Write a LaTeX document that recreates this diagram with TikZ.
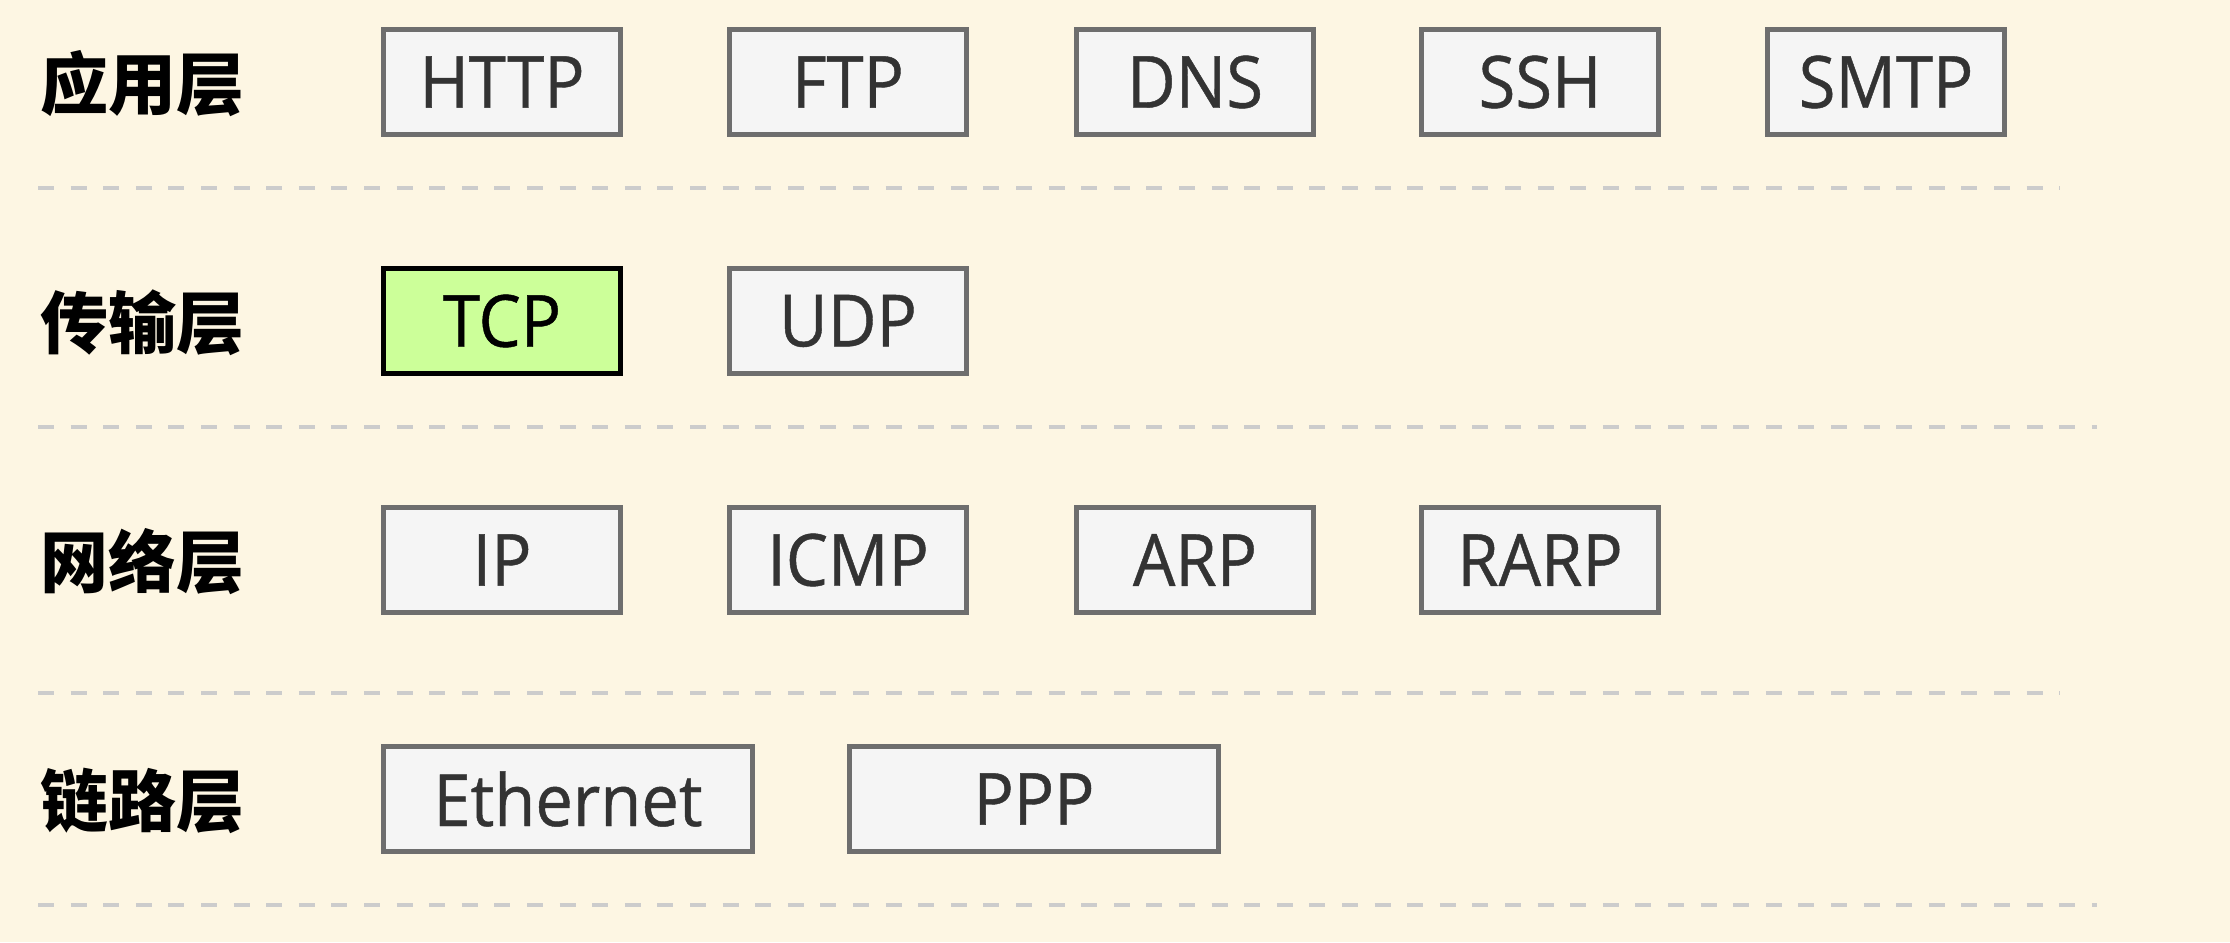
\documentclass[tikz,border=0pt]{standalone}
\usepackage{fontspec}
\setmainfont{Open Sans}
\newfontfamily\boxfont[FakeStretch=0.93,FakeBold=0.6]{Open Sans}
\newfontfamily\cjk{Noto Sans CJK SC}
\definecolor{bgc}{HTML}{FDF6E3}
\definecolor{boxfill}{HTML}{F5F5F5}
\definecolor{boxdraw}{HTML}{6E6E6E}
\definecolor{tcpfill}{HTML}{CCFF99}
\definecolor{sepc}{HTML}{CCCCCC}
\definecolor{txt}{HTML}{333333}
\begin{document}
\begin{tikzpicture}[x=0.5pt,y=-0.5pt,
  proto/.style={draw=boxdraw, fill=boxfill, line width=2.3pt, minimum width=118.7pt, minimum height=52.7pt,
    inner sep=0pt, font=\boxfont\fontsize{36}{40}\selectfont, text=txt},
  wide/.style={proto, minimum width=184.7pt},
  hot/.style={proto, draw=black, fill=tcpfill, text=black},
  lbl/.style={inner sep=0pt, font=\boxfont\fontsize{36}{40}\selectfont, text=txt},
  layer/.style={anchor=west, inner sep=0pt, font=\cjk\bfseries\fontsize{34}{38}\selectfont, text=black},
  sep/.style={draw=sepc, line width=2.4pt, dash pattern=on 8pt off 8.3pt}]
\fill[bgc] (0,0) rectangle (2230,942);
\useasboundingbox (0,0) rectangle (2230,942);
% row 1
\node[layer] (l1) at (40,84) {应用层};
\node[proto] (http) at (502,82) {\raisebox{-2pt}{HTTP}};
\node[proto] (ftp) at (848,82) {\raisebox{-2pt}{FTP}};
\node[proto] (dns) at (1195,82) {\raisebox{-2pt}{DNS}};
\node[proto] (ssh) at (1540,82) {\raisebox{-2pt}{SSH}};
\node[proto] (smtp) at (1886,82) {\raisebox{-2pt}{SMTP}};
% row 2
\node[layer] (l2) at (40,323) {传输层};
\node[hot] (tcp) at (502,321) {\raisebox{-2pt}{TCP}};
\node[proto] (udp) at (848,321) {\raisebox{-2pt}{UDP}};
% row 3
\node[layer] (l3) at (40,562) {网络层};
\node[proto] (ip) at (502,560) {\raisebox{-2pt}{IP}};
\node[proto] (icmp) at (848,560) {\raisebox{-2pt}{ICMP}};
\node[proto] (arp) at (1195,560) {\raisebox{-2pt}{ARP}};
\node[proto] (rarp) at (1540,560) {\raisebox{-2pt}{RARP}};
% row 4
\node[layer] (l4) at (40,801) {链路层};
\node[wide] (eth) at (568,799) {\raisebox{-2pt}{Ethernet}};
\node[wide] (ppp) at (1034,799) {\raisebox{-2pt}{PPP}};
% separators
\coordinate (s1a) at (38,188); \coordinate (s1b) at (2060,188);
\coordinate (s2a) at (38,427); \coordinate (s2b) at (2097,427);
\coordinate (s3a) at (38,693); \coordinate (s3b) at (2060,693);
\coordinate (s4a) at (38,905); \coordinate (s4b) at (2097,905);
\draw[sep] (s1a) -- (s1b);
\draw[sep] (s2a) -- (s2b);
\draw[sep] (s3a) -- (s3b);
\draw[sep] (s4a) -- (s4b);
\end{tikzpicture}
\end{document}
